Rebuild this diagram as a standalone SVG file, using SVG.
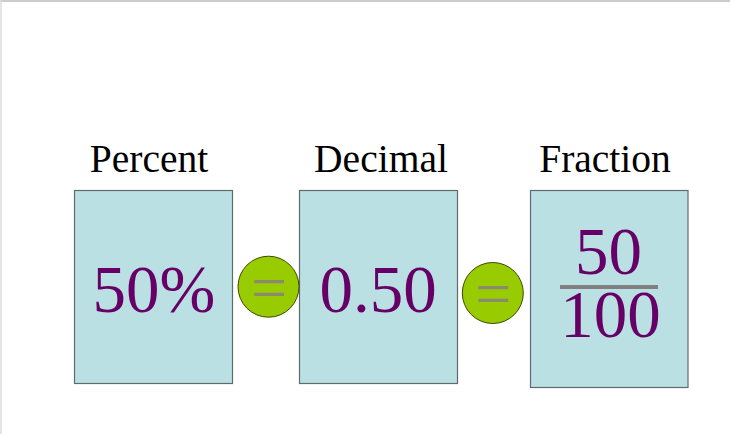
<svg xmlns="http://www.w3.org/2000/svg" width="730" height="434" viewBox="0 0 730 434">
<style>
.lbl{font-family:"Liberation Serif","Times New Roman",serif;font-size:39.5px;fill:#000;text-anchor:middle}
.val{font-family:"Liberation Serif","Times New Roman",serif;font-size:67px;fill:#660066;text-anchor:middle}
.box{fill:#BBE0E3;stroke:#5f6b6b;stroke-width:1.2}
.eqc{fill:#99CC00;stroke:#3a4a00;stroke-width:1}
.eq{font-family:"Liberation Serif","Times New Roman",serif;font-size:64px;fill:#8a8a70;text-anchor:middle}
</style>
<rect x="0" y="0" width="730" height="434" fill="#fff"/>
<line x1="0" y1="1" x2="730" y2="1" stroke="#cccccc" stroke-width="2"/>
<line x1="1" y1="0" x2="1" y2="434" stroke="#dddddd" stroke-width="1.5"/>
<g id="percent">
<text class="lbl" x="149" y="172">Percent</text>
<rect class="box" x="74.5" y="190.5" width="158" height="193"/>
<text class="val" x="154" y="312">50%</text>
</g>
<g id="decimal">
<text class="lbl" x="381" y="172">Decimal</text>
<rect class="box" x="299.5" y="190.5" width="158" height="193"/>
<text class="val" x="378" y="312">0.50</text>
</g>
<g id="fraction">
<text class="lbl" x="605" y="172">Fraction</text>
<rect class="box" x="530.5" y="190.5" width="157.5" height="197"/>
<text class="val" x="608.5" y="274">50</text>
<line x1="560" y1="287" x2="658" y2="287" stroke="#808080" stroke-width="4"/>
<text class="val" x="610.5" y="337">100</text>
</g>
<g id="connectors">
<g id="eq1">
<circle class="eqc" cx="268.5" cy="286.7" r="30.5"/>
<text class="eq" x="269" y="309">=</text>
</g>
<g id="eq2">
<circle class="eqc" cx="492.8" cy="293" r="30.5"/>
<text class="eq" x="493.3" y="315">=</text>
</g>
</g>
</svg>
